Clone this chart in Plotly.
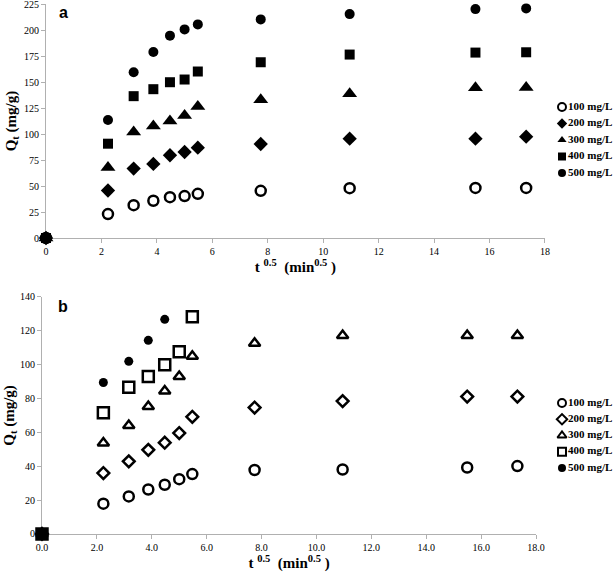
import plotly.graph_objects as go

# ---------------- data ----------------
x_a = [0, 2.236, 3.162, 3.873, 4.472, 5.0, 5.477, 7.746, 10.954, 15.492, 17.321]
a_100 = [0, 23.0, 31.6, 35.8, 39.3, 40.3, 42.5, 45.4, 47.9, 48.2, 48.2]
a_200 = [0, 45.7, 66.8, 71.2, 79.6, 82.7, 86.9, 90.4, 95.5, 95.5, 97.4]
a_300 = [0, 67.7, 101.9, 107.7, 112.5, 117.9, 126.5, 132.9, 138.7, 144.4, 144.7]
a_400 = [0, 90.7, 136.4, 143.1, 149.8, 152.4, 160.1, 169.0, 176.4, 178.3, 178.6]
a_500 = [0, 113.4, 159.4, 178.9, 194.6, 200.6, 205.4, 210.2, 215.3, 220.1, 220.8]

x_b = [0, 2.236, 3.162, 3.873, 4.472, 5.0, 5.477, 7.746, 10.954, 15.492, 17.321]
b_100 = [0, 17.9, 22.2, 26.3, 29.1, 32.4, 35.4, 37.8, 38.1, 39.3, 40.1]
b_200 = [0, 36.0, 42.9, 49.7, 53.9, 59.6, 69.2, 74.7, 78.5, 81.2, 81.2]
b_300 = [0, 53.7, 64.1, 75.3, 84.5, 93.0, 105.0, 112.7, 117.2, 117.2, 117.2]
x_b400 = [0, 2.236, 3.162, 3.873, 4.472, 5.0, 5.477]
b_400 = [0, 71.6, 86.7, 93.0, 99.9, 107.7, 128.4]
x_b500 = [0, 2.236, 3.162, 3.873, 4.472]
b_500 = [0, 89.5, 102.0, 114.4, 126.8]

names = ["100 mg/L", "200 mg/L", "300 mg/L", "400 mg/L", "500 mg/L"]
y_ticks_a = [0, 25, 50, 75, 100, 125, 150, 175, 200, 225]
y_ticks_b = [0, 20, 40, 60, 80, 100, 120, 140]
x_ticks = [0, 2, 4, 6, 8, 10, 12, 14, 16, 18]

SERIF = "Liberation Serif"
fig = go.Figure()


def lw(s):
    return 2.5 if "open" in s else 0


sym_a = ["circle-open", "diamond", "triangle-up", "square", "circle"]
size_a = [10, 11, 13, 10, 10]
for name, ys, s, sz in zip(names, [a_100, a_200, a_300, a_400, a_500], sym_a, size_a):
    fig.add_trace(go.Scatter(
        x=x_a, y=ys, mode="markers", name=name, xaxis="x", yaxis="y",
        showlegend=False, cliponaxis=False,
        marker=dict(symbol=s, size=sz, color="black", line=dict(color="black", width=lw(s)))))

sym_b = ["circle-open", "diamond-open", "triangle-up-open", "square-open", "circle"]
size_b = [10, 9, 10, 11, 9]
xs_b = [x_b, x_b, x_b, x_b400, x_b500]
for name, xs, ys, s, sz in zip(names, xs_b, [b_100, b_200, b_300, b_400, b_500], sym_b, size_b):
    syms = s
    if s == "square-open":
        syms = ["square"] + [s] * (len(ys) - 1)
    fig.add_trace(go.Scatter(
        x=xs, y=ys, mode="markers", name=name, xaxis="x2", yaxis="y2",
        showlegend=False, cliponaxis=False,
        marker=dict(symbol=syms, size=sz, color="black", line=dict(color="black", width=lw(s)))))

# legend keys, drawn on small categorical helper axes
for syms, xa, ya in [(sym_a, "x3", "y3"), (sym_b, "x4", "y4")]:
    fig.add_trace(go.Scatter(
        x=[0] * len(names), y=names, mode="markers+text", xaxis=xa, yaxis=ya,
        showlegend=False, cliponaxis=False, hoverinfo="skip",
        text=["<b>" + n + "</b>" for n in names], textposition="middle right",
        textfont=dict(family=SERIF, size=11, color="black"),
        marker=dict(symbol=syms, size=8, color="black",
                    line=dict(color="black", width=[2 if "open" in s else 0 for s in syms]))))

axis_common = dict(showgrid=False, zeroline=False, showline=True, linecolor="#b0b0b0",
                   linewidth=1, ticks="outside", tickcolor="#b0b0b0", ticklen=4,
                   automargin=False, layer="below traces", ticklabeloverflow="allow",
                   tickprefix="<b>", ticksuffix="</b>",
                   tickfont=dict(family=SERIF, size=10, color="black"))
title_font = dict(family=SERIF, size=15, color="black")
hidden = dict(visible=False, showgrid=False, zeroline=False, automargin=False)

fig.update_layout(
    width=614, height=573, margin=dict(l=0, r=0, t=0, b=0),
    paper_bgcolor="white", plot_bgcolor="white", showlegend=False,
    xaxis=dict(domain=[0.0749, 0.8876], range=[0, 18], tickvals=x_ticks, anchor="y",
               title=dict(text="<b>t <sup>0.5</sup>  (min<sup>0.5</sup> )</b>", font=title_font, standoff=2),
               **axis_common),
    yaxis=dict(domain=[0.5846, 0.993], range=[0, 225], tickvals=y_ticks_a, anchor="x",
               title=dict(text="<b>Q<sub>t</sub> (mg/g)</b>", font=title_font, standoff=3),
               **axis_common),
    xaxis2=dict(domain=[0.0684, 0.873], range=[0, 18], tickvals=x_ticks, anchor="y2",
                tickformat=".1f",
                title=dict(text="<b>t <sup>0.5</sup>  (min<sup>0.5</sup> )</b>", font=title_font, standoff=3),
                **axis_common),
    yaxis2=dict(domain=[0.0681, 0.4817], range=[0, 140], tickvals=y_ticks_b, anchor="x2",
                title=dict(text="<b>Q<sub>t</sub> (mg/g)</b>", font=title_font, standoff=1),
                **axis_common),
    xaxis3=dict(domain=[562/614, 1.0], range=[0, 1], anchor="y3", **hidden),
    yaxis3=dict(domain=[1 - 181.25/573, 1 - 98.75/573], range=[4.5, -0.5], anchor="x3",
                type="category", **hidden),
    xaxis4=dict(domain=[562/614, 1.0], range=[0, 1], anchor="y4", **hidden),
    yaxis4=dict(domain=[1 - 476.1/573, 1 - 394.9/573], range=[4.5, -0.5], anchor="x4",
                type="category", **hidden),
    annotations=[
        dict(text="<b>a</b>", x=63/614, y=1 - 12/573, xref="paper", yref="paper",
             xanchor="center", yanchor="middle",
             showarrow=False, font=dict(family="Liberation Sans", size=16, color="black")),
        dict(text="<b>b</b>", x=63/614, y=1 - 306/573, xref="paper", yref="paper",
             xanchor="center", yanchor="middle",
             showarrow=False, font=dict(family="Liberation Sans", size=16, color="black")),
    ],
)

fig.write_html("out.html", config={"displayModeBar": False},
               post_script="document.body.style.margin='0';")
